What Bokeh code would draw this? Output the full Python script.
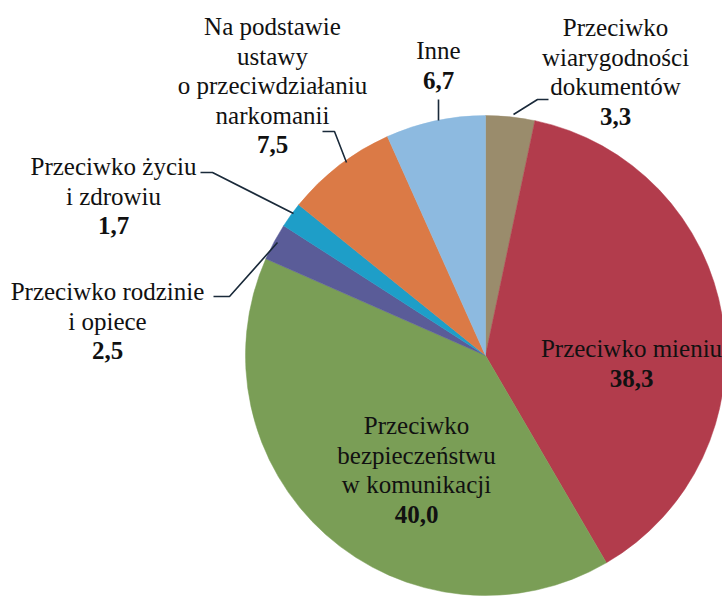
import math
from bokeh.plotting import figure
from bokeh.models import Range1d
from bokeh.core.properties import value
from bokeh.embed import file_html
from bokeh.resources import INLINE

# ---- data (clockwise from 12 o'clock) ----
categories = [
    "Przeciwko wiarygodności dokumentów",
    "Przeciwko mieniu",
    "Przeciwko bezpieczeństwu w komunikacji",
    "Przeciwko rodzinie i opiece",
    "Przeciwko życiu i zdrowiu",
    "Na podstawie ustawy o przeciwdziałaniu narkomanii",
    "Inne",
]
label_lines = [
    ["Przeciwko", "wiarygodności", "dokumentów"],
    ["Przeciwko mieniu"],
    ["Przeciwko", "bezpieczeństwu", "w komunikacji"],
    ["Przeciwko rodzinie", "i opiece"],
    ["Przeciwko życiu", "i zdrowiu"],
    ["Na podstawie", "ustawy", "o przeciwdziałaniu", "narkomanii"],
    ["Inne"],
]
shares = [3.3, 38.3, 40.0, 2.5, 1.7, 7.5, 6.7]
colors = ["#9A8C6C", "#B23C4C", "#7A9E56", "#5A5C98", "#1E9EC8", "#DB7A46", "#8DBAE0"]

# ---- layout (screen-like coordinates; y is negated) ----
CX, CY, R = 485, 355, 240
FONT = "Liberation Serif"
FS = "25px"
LH = 29.5
# first-line centre of each label block
label_pos = [(615, 27), (631, 348), (416, 425), (107, 291), (113, 166), (272, 26), (438, 50)]
leaders = [
    [(513, 114), (537, 99), (548, 99)],
    None,
    None,
    [(277, 242), (229, 296), (213, 296)],
    [(293, 213), (212, 172), (200, 172)],
    [(346, 162), (334, 131), (322, 131)],
    [(438, 120), (438, 99)],
]

p = figure(width=722, height=598, output_backend="svg", toolbar_location=None,
           x_range=Range1d(0, 722), y_range=Range1d(-598, 0),
           min_border=0, outline_line_color=None, background_fill_color="white",
           border_fill_color="white")
p.axis.visible = False
p.grid.visible = False

total = sum(shares)
cum = 0.0
for s, c in zip(shares, colors):
    a0 = math.pi / 2 - 2 * math.pi * cum / total
    cum += s
    a1 = math.pi / 2 - 2 * math.pi * cum / total
    p.wedge(x=CX, y=-CY, radius=R, start_angle=a1, end_angle=a0,
            direction="anticlock", fill_color=c, line_color=c, line_width=0.5)

for lines, v, (lx, ly), ld in zip(label_lines, shares, label_pos, leaders):
    n = len(lines)
    xs = [lx] * n
    ys = [-(ly + i * LH) for i in range(n)]
    p.text(x=xs, y=ys, text=lines, text_font=value(FONT), text_font_size=FS,
           text_align="center", text_baseline="middle", text_color="#111111")
    vt = f"{v:.1f}".replace(".", ",")
    p.text(x=[lx], y=[-(ly + n * LH)], text=[vt], text_font=value(FONT),
           text_font_size=FS, text_font_style="bold",
           text_align="center", text_baseline="middle", text_color="#111111")
    if ld:
        p.line(x=[q[0] for q in ld], y=[-q[1] for q in ld],
               line_color="#1a2a3a", line_width=1.6)

open("out.html", "w").write(file_html(p, INLINE))
